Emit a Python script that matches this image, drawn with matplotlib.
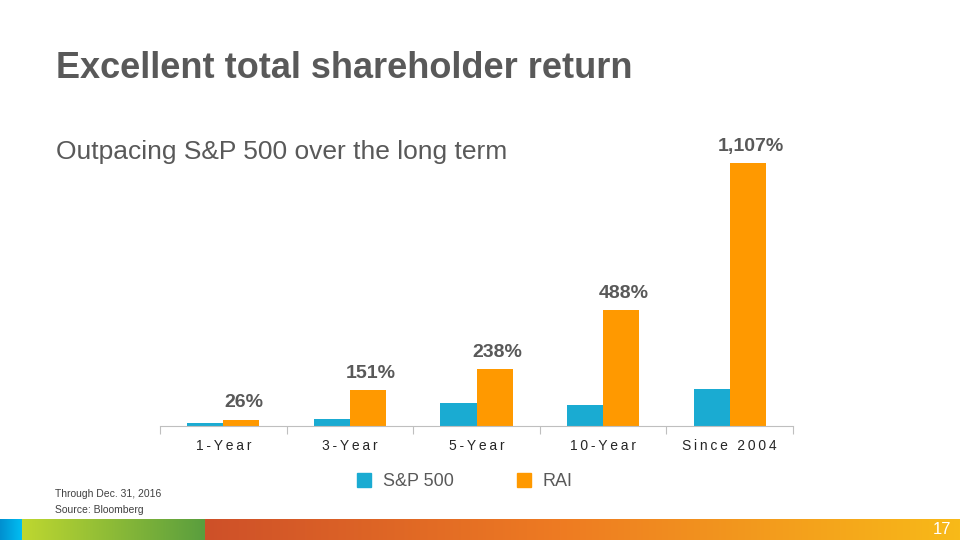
import numpy as np
import matplotlib.pyplot as plt
from matplotlib.colors import to_rgb
from matplotlib.patches import Rectangle

plt.rcParams['font.family'] = ['Liberation Sans', 'DejaVu Sans']

# chart data
periods = ['1-Year', '3-Year', '5-Year', '10-Year', 'Since 2004']
sp500 = [11, 28, 95, 88, 157]
rai = [26, 151, 238, 488, 1107]
rai_labels = ['26%', '151%', '238%', '488%', '1,107%']

blue = '#1AABD2'
orange = '#FF9900'
grey = '#595959'

fig = plt.figure(figsize=(9.6, 5.4), dpi=100)

# main bar chart
ax = fig.add_axes([160 / 960, 114 / 540, 633 / 960, 285 / 540])
x = np.arange(len(periods))
w = 0.285
ax.bar(x - w / 2, sp500, width=w, color=blue)
ax.bar(x + w / 2, rai, width=w, color=orange)
for xi, v, lab in zip(x, rai, rai_labels):
    ax.annotate(lab, (xi + w / 2, v), xytext=(2, 6), textcoords='offset points',
                ha='center', va='bottom', fontsize=14, fontweight='bold', color=grey)

ax.set_xlim(-0.5, len(periods) - 0.5)
ax.set_ylim(0, 1200)
for s in ['top', 'right', 'left']:
    ax.spines[s].set_visible(False)
ax.spines['bottom'].set_color('#BFBFBF')
ax.set_yticks([])
ax.set_xticks(np.arange(len(periods) + 1) - 0.5)
ax.set_xticklabels([])
ax.tick_params(axis='x', length=6, color='#BFBFBF')
ax.set_xticks(x, minor=True)
ax.set_xticklabels(['\u2009'.join(p) for p in periods], minor=True,
                   fontsize=10, color='#262626')
ax.tick_params(axis='x', which='minor', length=0, pad=9)

# titles
fig.text(56 / 960, 1 - 68 / 540, 'Excellent total shareholder return', fontsize=26,
         fontweight='bold', color=grey, va='center', ha='left')
fig.text(56 / 960, 1 - 152 / 540, 'Outpacing S&P 500 over the long term', fontsize=19,
         color=grey, va='center', ha='left')

# legend
for lx, col, name in [(357, blue, 'S&P 500'), (517, orange, 'RAI')]:
    fig.add_artist(Rectangle((lx / 960, 1 - 487 / 540), 14 / 960, 14 / 540,
                             transform=fig.transFigure, color=col))
    fig.text((lx + 26) / 960, 1 - 481 / 540, name, fontsize=13, color=grey,
             va='center', ha='left')

# footnote
fig.text(55 / 960, 1 - 494 / 540, 'Through Dec. 31, 2016', fontsize=7.5,
         color='#404040', va='center')
fig.text(55 / 960, 1 - 510 / 540, 'Source: Bloomberg', fontsize=7.5,
         color='#404040', va='center')

# bottom colour band
stops = [(0, '#0090D0'), (21, '#00BDF2'), (22, '#BED730'), (204, '#5A9E3E'),
         (205, '#CE5029'), (560, '#EE7B22'), (960, '#F8BA18')]
cols = np.zeros((960, 3))
for (x0, c0), (x1, c1) in zip(stops[:-1], stops[1:]):
    c0, c1 = np.array(to_rgb(c0)), np.array(to_rgb(c1))
    for px in range(x0, x1):
        t = (px - x0) / max(x1 - x0, 1)
        cols[px] = c0 + (c1 - c0) * t
cols[959] = to_rgb(stops[-1][1])
band = fig.add_axes([0, 0, 1, 21 / 540])
band.imshow(cols[np.newaxis, :, :], aspect='auto', extent=(0, 960, 0, 1))
band.axis('off')
band.text(951, 0.5, '17', color='white', fontsize=12, ha='right', va='center')

fig.savefig('out.png', dpi=100)
